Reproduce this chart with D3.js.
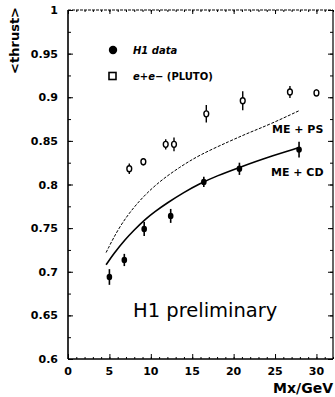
<!DOCTYPE html>
<html><head><meta charset="utf-8">
<script src="https://cdn.jsdelivr.net/npm/d3@7"></script>
<style>body{margin:0;background:#fff}svg{display:block}</style>
</head><body>
<svg id="c" width="335" height="397"></svg>
<script>
// H1 data
const h1X = [5, 6.8, 9.2, 12.4, 16.4, 20.7, 27.9];
const h1Y = [0.694, 0.7135, 0.749, 0.764, 0.803, 0.818, 0.840];
const h1Err = [0.009, 0.007, 0.008, 0.008, 0.006, 0.007, 0.009];
// e+e- (PLUTO)
const plX = [7.4, 9.1, 11.8, 12.8, 16.7, 21.1, 26.8, 30.0];
const plY = [0.818, 0.826, 0.846, 0.846, 0.881, 0.896, 0.906, 0.905];
const plErr = [0.006, 0.004, 0.006, 0.008, 0.010, 0.011, 0.007, 0.004];
// ME + CD (solid)
const cdX = [4.6, 5.5, 6.9, 8.0, 9.3, 10.5, 12.0, 14.0, 15.9, 18.0, 20.8, 24.0, 27.8];
const cdY = [0.708, 0.7205, 0.737, 0.748, 0.760, 0.769, 0.779, 0.791, 0.801, 0.810, 0.820, 0.831, 0.842];
// ME + PS (dashed)
const psX = [4.6, 6.3, 8.7, 11.1, 13.5, 15.9, 19.6, 22.0, 24.4, 28.0];
const psY = [0.722, 0.754, 0.783, 0.804, 0.820, 0.834, 0.850, 0.860, 0.869, 0.885];
// ticks
const xTicks = [0, 5, 10, 15, 20, 25, 30];
const yTicks = [0.6, 0.65, 0.7, 0.75, 0.8, 0.85, 0.9, 0.95, 1];
const yLabels = ["0.6", "0.65", "0.7", "0.75", "0.8", "0.85", "0.9", "0.95", "1"];

const svg = d3.select("#c");
const L = 68, R = 333, T = 10, B = 359;
const x = d3.scaleLinear().domain([0, 32]).range([L, R]);
const y = d3.scaleLinear().domain([0.6, 1]).range([B, T]);
const font = "DejaVu Sans, Verdana, sans-serif";

// frame
const g = svg.append("g");
g.append("line").attr("x1", L).attr("x2", L).attr("y1", T).attr("y2", B).attr("stroke", "#000").attr("stroke-width", 1.6);
g.append("line").attr("x1", L).attr("x2", R).attr("y1", B).attr("y2", B).attr("stroke", "#000").attr("stroke-width", 1.6);
g.append("line").attr("x1", L).attr("x2", R).attr("y1", T).attr("y2", T).attr("stroke", "#000").attr("stroke-width", 1).attr("stroke-dasharray", "3,1");
g.append("line").attr("x1", R).attr("x2", R).attr("y1", T).attr("y2", B).attr("stroke", "#000").attr("stroke-width", 1.2);

// axes with d3 axis (ticks inward)
const xMinor = d3.range(0, 33, 1);
const yMinor = d3.range(0, 17).map(i => 0.6 + i * 0.025);
function axisStyle(sel) { sel.select(".domain").remove(); sel.selectAll("line").attr("stroke", "#000").attr("stroke-width", 1); }
svg.append("g").attr("transform", `translate(0,${B})`)
  .call(d3.axisTop(x).tickValues(xMinor).tickSize(2).tickFormat(""))
  .call(axisStyle);
svg.append("g").attr("transform", `translate(0,${B})`)
  .call(d3.axisTop(x).tickValues(xTicks).tickSize(5).tickFormat(""))
  .call(axisStyle);
svg.append("g").attr("transform", `translate(0,${T})`)
  .call(d3.axisBottom(x).tickValues(xMinor).tickSize(2).tickFormat(""))
  .call(axisStyle);
svg.append("g").attr("transform", `translate(0,${T})`)
  .call(d3.axisBottom(x).tickValues(xTicks).tickSize(4).tickFormat(""))
  .call(axisStyle);
svg.append("g").attr("transform", `translate(${L},0)`)
  .call(d3.axisRight(y).tickValues(yMinor).tickSize(3).tickFormat(""))
  .call(axisStyle);
svg.append("g").attr("transform", `translate(${L},0)`)
  .call(d3.axisRight(y).tickValues(yTicks).tickSize(5).tickFormat(""))
  .call(axisStyle);
svg.append("g").attr("transform", `translate(${R},0)`)
  .call(d3.axisLeft(y).tickValues(yMinor).tickSize(3).tickFormat(""))
  .call(axisStyle);
svg.append("g").attr("transform", `translate(${R},0)`)
  .call(d3.axisLeft(y).tickValues(yTicks).tickSize(5).tickFormat(""))
  .call(axisStyle);

// tick labels
svg.append("g").selectAll("text").data(yTicks).join("text")
  .attr("x", 58).attr("y", d => y(d) + 4)
  .attr("text-anchor", "end").attr("font-family", font).attr("font-weight", "bold").attr("font-size", 11)
  .text((d, i) => yLabels[i]);
svg.append("g").selectAll("text").data(xTicks).join("text")
  .attr("x", d => x(d)).attr("y", 375)
  .attr("text-anchor", "middle").attr("font-family", font).attr("font-weight", "bold").attr("font-size", 11)
  .text(d => d);

// axis titles
svg.append("text").attr("transform", "translate(19,7) rotate(-90)")
  .attr("text-anchor", "end").attr("font-family", font).attr("font-weight", "bold").attr("font-size", 13)
  .text("<thrust>");
svg.append("text").attr("x", 333).attr("y", 393).attr("text-anchor", "end")
  .attr("font-family", font).attr("font-weight", "bold").attr("font-size", 14).text("Mx/GeV");

// curves
const line = d3.line().x(d => x(d[0])).y(d => y(d[1])).curve(d3.curveBasis);
svg.append("path").attr("d", line(cdX.map((v, i) => [v, cdY[i]])))
  .attr("fill", "none").attr("stroke", "#000").attr("stroke-width", 1.6);
svg.append("path").attr("d", line(psX.map((v, i) => [v, psY[i]])))
  .attr("fill", "none").attr("stroke", "#000").attr("stroke-width", 1).attr("stroke-dasharray", "3,1.5");

// H1 data
const h1 = svg.append("g");
h1X.forEach((v, i) => {
  h1.append("line").attr("x1", x(v)).attr("x2", x(v)).attr("y1", y(h1Y[i] - h1Err[i])).attr("y2", y(h1Y[i] + h1Err[i]))
    .attr("stroke", "#000").attr("stroke-width", 1.6);
  h1.append("ellipse").attr("cx", x(v)).attr("cy", y(h1Y[i])).attr("rx", 2.8).attr("ry", 3.2).attr("fill", "#000");
});
// PLUTO
const pl = svg.append("g");
plX.forEach((v, i) => {
  pl.append("line").attr("x1", x(v)).attr("x2", x(v)).attr("y1", y(plY[i] - plErr[i])).attr("y2", y(plY[i] + plErr[i]))
    .attr("stroke", "#000").attr("stroke-width", 1.4);
  pl.append("ellipse").attr("cx", x(v)).attr("cy", y(plY[i])).attr("rx", 2.4).attr("ry", 3).attr("fill", "#fff")
    .attr("stroke", "#000").attr("stroke-width", 1.4);
});

// legend
svg.append("circle").attr("cx", 113).attr("cy", 50).attr("r", 4.2).attr("fill", "#000");
svg.append("text").attr("x", 133).attr("y", 54).attr("font-family", font).attr("font-weight", "bold")
  .attr("font-style", "italic").attr("font-size", 10).text("H1 data");
svg.append("rect").attr("x", 109).attr("y", 72.5).attr("width", 7).attr("height", 7).attr("fill", "#fff")
  .attr("stroke", "#000").attr("stroke-width", 1.6);
const t2 = svg.append("text").attr("x", 133).attr("y", 80).attr("font-family", font).attr("font-weight", "bold").attr("font-size", 10);
t2.append("tspan").attr("font-style", "italic").text("e+e\u2212");
t2.append("tspan").text(" (PLUTO)");

// curve labels
svg.append("text").attr("x", 272).attr("y", 133).attr("font-family", font).attr("font-weight", "bold").attr("font-size", 11).text("ME + PS");
svg.append("text").attr("x", 271).attr("y", 176).attr("font-family", font).attr("font-weight", "bold").attr("font-size", 11).text("ME + CD");

// H1 preliminary
svg.append("text").attr("x", 133).attr("y", 317).attr("font-family", font).attr("font-size", 19.5).text("H1 preliminary");
</script>
</body></html>
